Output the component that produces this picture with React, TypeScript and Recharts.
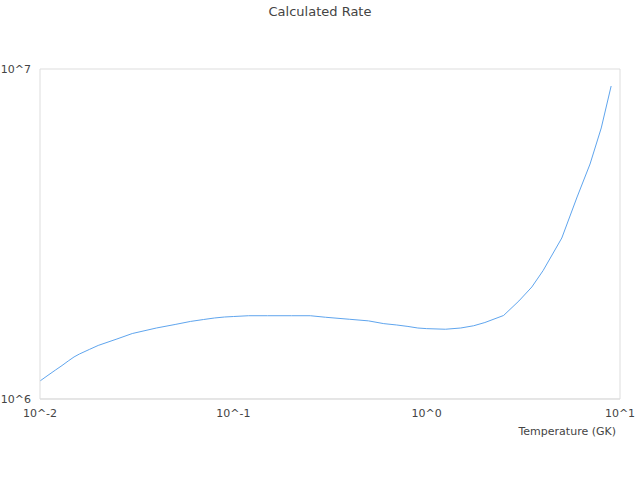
import { CartesianGrid, Line, LineChart, XAxis, YAxis } from "recharts";

// temperature grid (GK) and calculated rate
const temperatures = [
  0.01, 0.011, 0.012, 0.013, 0.014, 0.015, 0.016, 0.018, 0.02, 0.025, 0.03, 0.04, 0.05, 0.06,
  0.07, 0.08, 0.09, 0.1, 0.12, 0.15, 0.2, 0.25, 0.3, 0.4, 0.5, 0.6, 0.7, 0.8, 0.9, 1, 1.25, 1.5,
  1.75, 2, 2.5, 3, 3.5, 4, 5, 6, 7, 8, 9,
];
const rates = [
  1.134e6, 1.18e6, 1.223e6, 1.263e6, 1.304e6, 1.341e6, 1.369e6, 1.413e6, 1.453e6, 1.52e6,
  1.579e6, 1.641e6, 1.682e6, 1.718e6, 1.741e6, 1.76e6, 1.772e6, 1.778e6, 1.788e6, 1.788e6,
  1.788e6, 1.788e6, 1.769e6, 1.744e6, 1.725e6, 1.692e6, 1.676e6, 1.659e6, 1.641e6, 1.634e6,
  1.627e6, 1.641e6, 1.667e6, 1.705e6, 1.791e6, 1.982e6, 2.185e6, 2.449e6, 3.075e6, 4.094e6,
  5.154e6, 6.627e6, 8.881e6,
];
const xTicks = [0.01, 0.1, 1, 10];
const yTicks = [1e6, 1e7];

const data = temperatures.map((t, i) => ({ t, rate: rates[i] }));

const font = "'DejaVu Sans', sans-serif";
const tickStyle = { fontSize: 11, fill: "#444", fontFamily: font };
const pow10 = (v: number) => `10^${Math.round(Math.log10(v))}`;

export default function App() {
  return (
    <div style={{ position: "absolute", left: 0, top: 0, width: 640, height: 480, background: "#fff" }}>
      <div
        style={{
          position: "absolute",
          top: 4,
          width: 640,
          textAlign: "center",
          fontFamily: font,
          fontSize: 13,
          lineHeight: "16px",
          color: "#444",
        }}
      >
        Calculated Rate
      </div>
      <LineChart width={640} height={480} data={data} margin={{ top: 69, right: 0, bottom: 41, left: 0 }}>
        <CartesianGrid stroke="#ddd" vertical={false} />
        <XAxis
          dataKey="t"
          type="number"
          scale="log"
          domain={[0.01, 10]}
          ticks={xTicks}
          tickFormatter={pow10}
          tick={tickStyle}
          tickLine={false}
          tickMargin={4}
          axisLine={{ stroke: "#ddd" }}
          height={40}
          allowDataOverflow
          label={{
            value: "Temperature (GK)",
            position: "insideBottomRight",
            offset: 4,
            style: { fontSize: 11, fill: "#444", fontFamily: font },
          }}
        />
        <YAxis
          type="number"
          scale="log"
          domain={[1e6, 1e7]}
          ticks={yTicks}
          tickFormatter={pow10}
          tick={tickStyle}
          tickLine={false}
          tickMargin={3}
          axisLine={{ stroke: "#ddd" }}
          width={40}
          allowDataOverflow
        />
        <YAxis
          yAxisId="right"
          orientation="right"
          type="number"
          scale="log"
          domain={[1e6, 1e7]}
          ticks={yTicks}
          tick={false}
          tickLine={false}
          axisLine={{ stroke: "#ddd" }}
          width={20}
          allowDataOverflow
        />
        <Line dataKey="rate" stroke="#5fa5ee" strokeWidth={1} dot={false} isAnimationActive={false} />
      </LineChart>
    </div>
  );
}
